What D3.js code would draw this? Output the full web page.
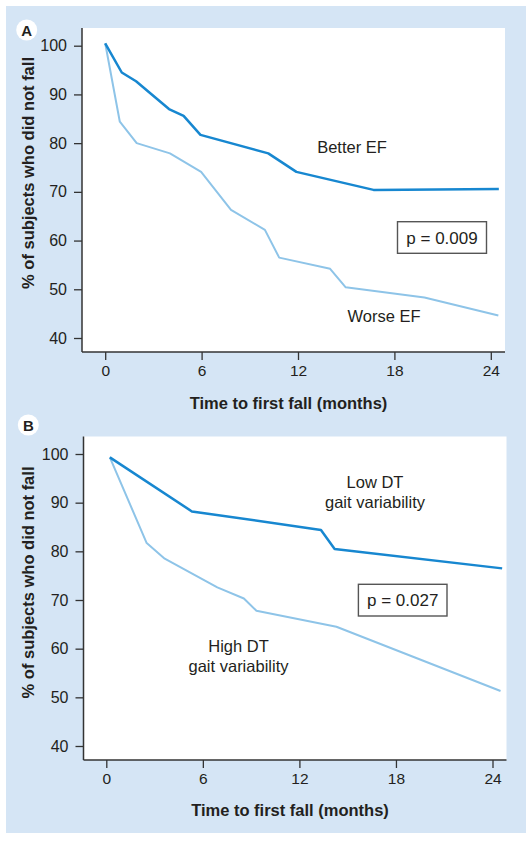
<!DOCTYPE html>
<html>
<head>
<meta charset="utf-8">
<script src="https://cdn.jsdelivr.net/npm/d3@7"></script>
<style>
  html, body { margin: 0; padding: 0; background: #ffffff; }
  svg text { font-family: "Liberation Sans", Arial, Helvetica, sans-serif; fill: #231f20; }
</style>
</head>
<body>
<svg id="chart" width="532" height="843"></svg>
<script>
// ---- Data ----
const xTicks = [0, 6, 12, 18, 24];
const yTicks = [40, 50, 60, 70, 80, 90, 100];

// Panel A
const betterEFTime  = [0, 1.03, 1.92, 3.97, 4.88, 5.93, 10.15, 11.9, 16.7, 24.5];
const betterEFValue = [100.5, 94.5, 92.7, 87.0, 85.6, 81.7, 77.9, 74.1, 70.4, 70.6];
const worseEFTime   = [0, 0.91, 1.96, 4.03, 5.97, 7.83, 9.94, 10.83, 14.0, 14.97, 19.87, 24.47];
const worseEFValue  = [100.5, 84.4, 80.0, 77.9, 74.1, 66.3, 62.2, 56.5, 54.2, 50.4, 48.3, 44.6];

// Panel B
const lowDTTime   = [0.22, 5.32, 13.34, 14.19, 24.6];
const lowDTValue  = [99.3, 88.2, 84.4, 80.5, 76.5];
const highDTTime  = [0.22, 2.51, 3.63, 6.9, 8.55, 9.33, 14.3, 24.5];
const highDTValue = [99.3, 81.7, 78.5, 72.6, 70.3, 67.8, 64.5, 51.3];

const yTitle = "% of subjects who did not fall";
const xTitle = "Time to first fall (months)";

// ---- Drawing ----
const svg = d3.select("#chart");
const BG = "#d5e5f5";
const DARK = "#1787d0";
const LIGHT = "#8ec4e8";
const AXIS = "#333333";

svg.append("rect").attr("x", 6).attr("y", 6).attr("width", 520).attr("height", 827).attr("fill", BG);

function panel(cfg) {
  const g = svg.append("g");
  const x = d3.scaleLinear().domain([0, 24]).range([cfg.x0, cfg.x24]);
  const y = d3.scaleLinear().domain([40, 100]).range([cfg.y40, cfg.y100]);

  // plot background
  g.append("rect").attr("x", cfg.left).attr("y", cfg.top)
    .attr("width", cfg.right - cfg.left).attr("height", cfg.bottom - cfg.top)
    .attr("fill", "#ffffff");

  // axes ticks
  const ya = g.append("g").attr("transform", `translate(${cfg.left},0)`)
    .call(d3.axisLeft(y).tickValues(yTicks).tickSize(8).tickPadding(7).tickSizeOuter(0));
  const xa = g.append("g").attr("transform", `translate(0,${cfg.bottom})`)
    .call(d3.axisBottom(x).tickValues(xTicks).tickSize(8).tickPadding(5).tickSizeOuter(0));
  ya.selectAll(".tick text").attr("font-size", "16px");
  xa.selectAll(".tick text").attr("font-size", "15.5px");
  [ya, xa].forEach(a => {
    a.select(".domain").remove();
    a.selectAll(".tick line").attr("stroke", AXIS).attr("stroke-width", 1.3);
    a.selectAll(".tick text").style("fill", "#231f20")
      .attr("font-family", "Liberation Sans, Arial, sans-serif");
  });
  // axis lines
  g.append("line").attr("x1", cfg.left).attr("x2", cfg.left).attr("y1", cfg.top).attr("y2", cfg.bottom)
    .attr("stroke", AXIS).attr("stroke-width", 1.5);
  g.append("line").attr("x1", cfg.left).attr("x2", cfg.right).attr("y1", cfg.bottom).attr("y2", cfg.bottom)
    .attr("stroke", AXIS).attr("stroke-width", 1.5);

  // lines
  const line = d3.line().x(d => x(d[0])).y(d => y(d[1]));
  cfg.series.forEach(s => {
    const pts = s.t.map((t, i) => [t, s.v[i]]);
    g.append("path").attr("d", line(pts)).attr("fill", "none")
      .attr("stroke", s.color).attr("stroke-width", s.width)
      .attr("stroke-linejoin", "round");
  });

  // annotations
  cfg.labels.forEach(l => {
    g.append("text").attr("x", l.x).attr("y", l.y).attr("text-anchor", "middle")
      .attr("font-size", "16.5px").text(l.text);
  });

  // p box
  g.append("rect").attr("x", cfg.pbox.x).attr("y", cfg.pbox.y)
    .attr("width", cfg.pbox.w).attr("height", cfg.pbox.h)
    .attr("fill", "#ffffff").attr("stroke", "#555555").attr("stroke-width", 1.4);
  g.append("text").attr("x", cfg.pbox.x + cfg.pbox.w / 2).attr("y", cfg.pbox.y + cfg.pbox.h / 2 + 6)
    .attr("text-anchor", "middle").attr("font-size", "17px").text(cfg.pbox.text);

  // axis titles
  g.append("text").attr("x", (cfg.left + cfg.right) / 2 - 5).attr("y", cfg.xTitleY)
    .attr("text-anchor", "middle").attr("font-size", "16.5px").attr("font-weight", "bold").text(xTitle);
  g.append("text").attr("transform", `translate(${cfg.yTitleX},${cfg.yTitleCY}) rotate(-90)`)
    .attr("text-anchor", "middle").attr("font-size", "16.5px").attr("font-weight", "bold").text(yTitle);

  // panel letter
  g.append("circle").attr("cx", cfg.letterX).attr("cy", cfg.letterY).attr("r", 10.5).attr("fill", "#ffffff");
  g.append("text").attr("x", cfg.letterX).attr("y", cfg.letterY + 5.5).attr("text-anchor", "middle")
    .attr("font-size", "15px").attr("font-weight", "bold").text(cfg.letter);
}

panel({
  left: 82, right: 505, top: 28, bottom: 352,
  x0: 105.2, x24: 490.8, y40: 338, y100: 45.7,
  series: [
    { t: worseEFTime, v: worseEFValue, color: LIGHT, width: 2 },
    { t: betterEFTime, v: betterEFValue, color: DARK, width: 2.5 }
  ],
  labels: [
    { text: "Better EF", x: 352, y: 153 },
    { text: "Worse EF", x: 384, y: 322 }
  ],
  pbox: { x: 397.5, y: 221.7, w: 89, h: 31.6, text: "p = 0.009" },
  xTitleY: 409, yTitleX: 34, yTitleCY: 173,
  letter: "A", letterX: 26.7, letterY: 30
});

panel({
  left: 83.5, right: 506.5, top: 436.5, bottom: 760,
  x0: 106.3, x24: 492.5, y40: 746, y100: 454,
  series: [
    { t: highDTTime, v: highDTValue, color: LIGHT, width: 2 },
    { t: lowDTTime, v: lowDTValue, color: DARK, width: 2.5 }
  ],
  labels: [
    { text: "Low DT", x: 375, y: 488 },
    { text: "gait variability", x: 375, y: 508 },
    { text: "High DT", x: 238.5, y: 652 },
    { text: "gait variability", x: 238.5, y: 672 }
  ],
  pbox: { x: 358.4, y: 584.3, w: 88.6, h: 31.7, text: "p = 0.027" },
  xTitleY: 816, yTitleX: 34, yTitleCY: 582.5,
  letter: "B", letterX: 28.3, letterY: 425
});
</script>
</body>
</html>
